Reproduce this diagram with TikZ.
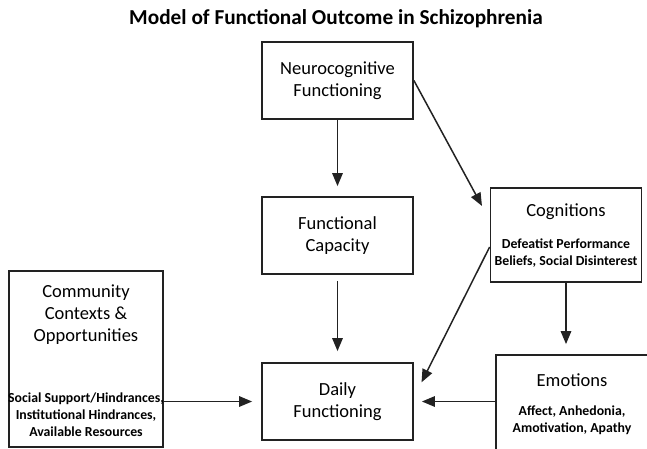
\documentclass[tikz,border=0pt]{standalone}
\usepackage{fontspec}
\setmainfont{Carlito}
\usetikzlibrary{positioning,arrows.meta,calc}
\definecolor{cline}{HTML}{222222}
\newcommand\mainlbl{\fontsize{18.5}{21.8}\selectfont}
\newcommand\notelbl{\bfseries\fontsize{13.8}{17.2}\selectfont}
\tikzset{
  block/.style={rectangle, draw=cline, line width=1.8pt, fill=white, inner sep=0pt,
                minimum width=151pt, minimum height=77pt, align=center, font=\mainlbl},
  boxhead/.style={align=center, inner sep=0pt, font=\mainlbl},
  boxnote/.style={align=center, inner sep=0pt, font=\notelbl},
  figtitle/.style={inner sep=0pt, font=\bfseries\fontsize{21.3}{25}\selectfont},
  link/.style={-{Triangle[length=13pt,width=10.5pt]}, line width=1.5pt, draw=cline}
}

\begin{document}
\begin{tikzpicture}[x=1pt,y=-1pt]
\useasboundingbox (0,0) rectangle (647,448);
\node[figtitle] (ttl) at (336,19) {Model of Functional Outcome in Schizophrenia};
\node[block] (neuro) at (337.5,80.5) {Neurocognitive\\Functioning};
\node[block] (cap) at (337.5,235.5) {Functional\\Capacity};
\node[block] (daily) at (337.5,401.5) {Daily\\Functioning};
\node[block, minimum width=154pt, minimum height=176pt] (comm) at (86,359) {};
\node[block, minimum height=94pt] (cogn) at (566,235) {};
\node[block, minimum width=160pt, minimum height=100pt] (emot) at (576,405) {};
% texts inside the wide boxes
\node[boxhead] (commt) at (86,314.5) {Community\\Contexts \&\\Opportunities};
\node[boxnote] (commd) at (86,414.5) {Social Support/Hindrances,\\Institutional Hindrances,\\Available Resources};
\node[boxhead] (cognt) at (566,212) {Cognitions};
\node[boxnote] (cognd) at (566,253) {Defeatist Performance\\Beliefs, Social Disinterest};
\node[boxhead] (emott) at (572,380) {Emotions};
\node[boxnote] (emotd) at (572,420.5) {Affect, Anhedonia,\\Amotivation, Apathy};
% arrows
\draw[link, shorten >=10pt] (neuro) -- (cap);
\draw[link, shorten <=6pt, shorten >=11pt] (cap) -- (daily);
\draw[link, shorten >=16pt] (neuro.east) -- ([yshift=15pt]cogn.west);
\draw[link, shorten >=17pt] ([yshift=-12pt]cogn.west) -- ([yshift=4pt]daily.east);
\draw[link, shorten >=10pt] (cogn.south) -- (cogn.south |- emot.north);
\draw[link, shorten >=8pt] (emot.west |- daily) -- (daily);
\draw[link, shorten >=9pt] (comm.east |- daily) -- (daily);
\end{tikzpicture}
\end{document}
